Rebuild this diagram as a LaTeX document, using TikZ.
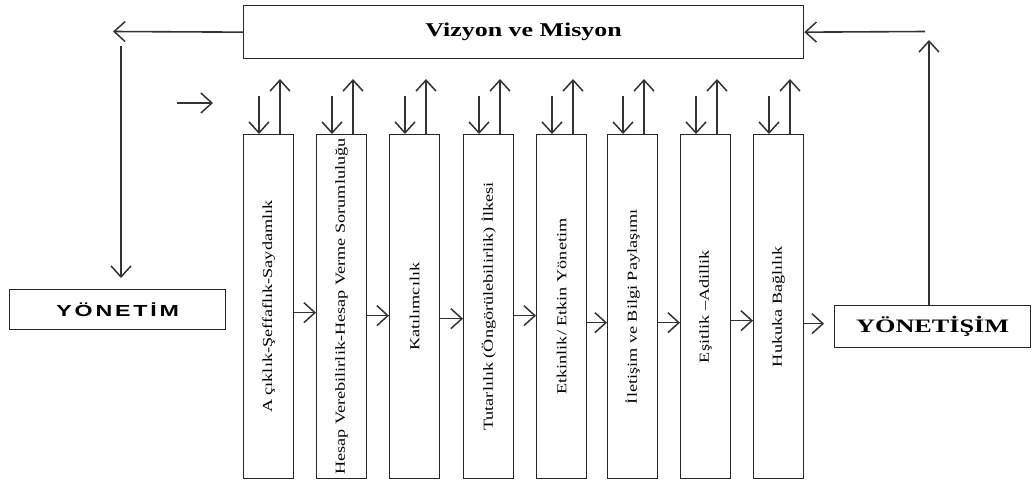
\documentclass[tikz,border=0pt]{standalone}
\usepackage{fontspec}
\setmainfont{Liberation Serif}
\newfontfamily\widesans[LetterSpace=12]{Liberation Sans}
\usetikzlibrary{arrows.meta}
\tikzset{
  arr/.style={-{Straight Barb[length=11pt,width=20pt,line width=1.5pt]}, line width=1.6pt, draw=black!80},
  box/.style={draw=black!85, line width=1.3pt, inner sep=0pt},
  col/.style={box, minimum width=50pt, minimum height=344pt, anchor=north west,
    font=\fontsize{13.8}{14}\selectfont},
}
\newcommand{\coltext}[1]{\rotatebox{90}{\scalebox{1.32}[1]{#1}}}
\begin{document}
\begin{tikzpicture}[x=1pt,y=-1pt]
\useasboundingbox (0,0) rectangle (1032,483);
% top box
\node[box, minimum width=560pt, minimum height=53pt, anchor=north west] (viz) at (243,5)
  {\bfseries\fontsize{19.5}{20}\selectfont\scalebox{1.33}[1]{Vizyon ve Misyon}};
% side boxes
\node[box, minimum width=216pt, minimum height=40pt, anchor=north west] (yon) at (9,289)
  {\widesans\bfseries\fontsize{16}{16}\selectfont\scalebox{1.45}[1]{YÖNETİM}};
\node[box, minimum width=196pt, minimum height=42pt, anchor=north west] (yns) at (834,305)
  {\bfseries\fontsize{19}{19}\selectfont\scalebox{1.38}[1]{YÖNETİŞİM}};
% columns
\node[col] (c1) at (243,134) {\coltext{A çıklık-Şeffaflık-Saydamlık}};
\node[col] (c2) at (316,134) {\coltext{Hesap Verebilirlik-Hesap Verme Sorumluluğu}};
\node[col] (c3) at (389,134) {\coltext{Katılımcılık}};
\node[col] (c4) at (463,134) {\coltext{Tutarlılık (Öngörülebilirlik) İlkesi}};
\node[col] (c5) at (536,134) {\coltext{Etkinlik/ Etkin Yönetim}};
\node[col] (c6) at (607,134) {\coltext{İletişim ve Bilgi Paylaşımı}};
\node[col] (c7) at (680,134) {\coltext{Eşitlik –Adillik}};
\node[col] (c8) at (753,134) {\coltext{Hukuka Bağlılık}};
% arrows above columns
\foreach \c in {c1,c2,c3,c4,c5,c6,c7,c8}{
  \draw[arr] ([xshift=16pt,yshift=38pt]\c.north west) -- ([xshift=16pt]\c.north west);
  \draw[arr] ([xshift=37pt]\c.north west) -- ++(0,-55);
}
% arrows between columns
\draw[arr] ([yshift=-6pt]c1.east) -- ([yshift=-6pt]c2.west);
\draw[arr] ([yshift=-9pt]c2.east) -- ([yshift=-9pt]c3.west);
\draw[arr] ([yshift=-12pt]c3.east) -- ([yshift=-12pt]c4.west);
\draw[arr] ([yshift=-9pt]c4.east) -- ([yshift=-9pt]c5.west);
\draw[arr] ([yshift=-16pt]c5.east) -- ([yshift=-16pt]c6.west);
\draw[arr] ([yshift=-16pt]c6.east) -- ([yshift=-16pt]c7.west);
\draw[arr] ([yshift=-14pt]c7.east) -- ([yshift=-14pt]c8.west);
\draw[arr, shorten >=10pt] ([yshift=-17pt]c8.east) -- ([yshift=-17pt]c8.east -| yns.west);
% small arrow
\coordinate (sa1) at (177,103);
\coordinate (sa2) at (213,103);
\draw[arr] (sa1) -- (sa2);
% left loop
\coordinate (lt) at (113,31.5);
\draw[arr] (viz.west) -- (lt);
\coordinate (lv) at (121,46);
\draw[arr, shorten >=11pt] (lv) -- (lv |- yon.north);
% right loop
\coordinate (rt) at (929,40);
\draw[arr] (yns.north -| rt) -- (rt);
\coordinate (rh) at (925,31.5);
\draw[arr] (rh) -- (viz.east);
\end{tikzpicture}
\end{document}
